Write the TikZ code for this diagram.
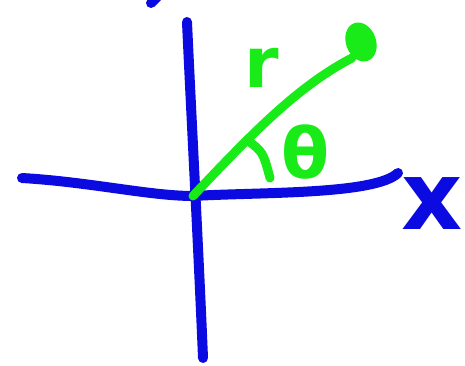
\documentclass[tikz,border=0pt]{standalone}
\usepackage{fontspec}
\setmainfont{DejaVu Sans}
\usetikzlibrary{positioning}
\definecolor{penblue}{RGB}{10,10,225}
\definecolor{pengreen}{RGB}{25,235,25}
\tikzset{
  axis/.style={penblue,line width=10pt,line cap=round,line join=round},
  ray/.style={pengreen,line width=9pt,line cap=round,line join=round},
  lbl/.style={inner sep=0pt,font=\bfseries\fontsize{70}{70}\selectfont}
}

\begin{document}
\begin{tikzpicture}[x=1pt,y=-1pt]
   \useasboundingbox (0,0) rectangle (465,366);
   % axes
   \coordinate (o) at (193,196);
   \coordinate (top) at (187,22);
   \coordinate (bottom) at (203,358);
   \coordinate (left) at (22,178);
   \coordinate (right) at (398,173);
   \draw[axis] (top) .. controls (191,110) and (199,260) .. (bottom);
   \draw[axis] (left) .. controls (90,182) and (150,196) .. (o)
      .. controls (260,192) and (375,195) .. (right);
   \draw[axis] (151,3) -- (157,-3);
   % ray and point
   \coordinate (tip) at (352,58);
   \draw[ray] (o) .. controls (255,130) and (300,85) .. (tip);
   \fill[pengreen,rotate around={20:(361,42)}] (361,42) ellipse (15 and 20);
   \draw[ray] (247,140) .. controls (263,152) .. (270,178);
   % labels
   \node[lbl,text=pengreen] (r) at (262,68) {r};
   \node[lbl,text=pengreen] (theta) at (306,152) {θ};
   \node[lbl,text=penblue,font=\bfseries\fontsize{95}{95}\selectfont] (x) at (432,204) {x};
\end{tikzpicture}
\end{document}
